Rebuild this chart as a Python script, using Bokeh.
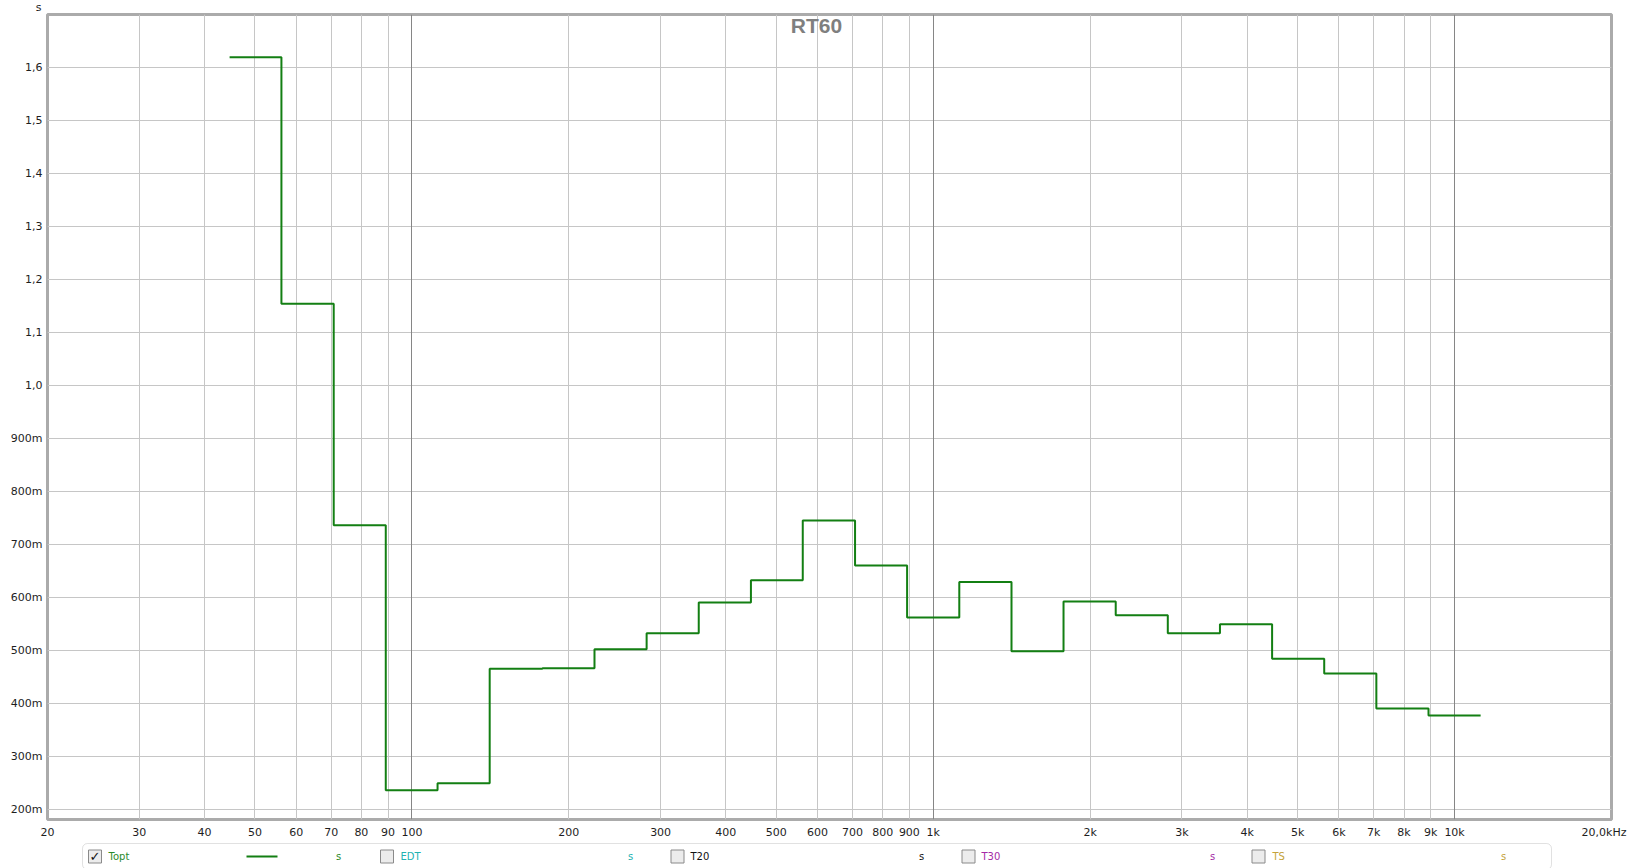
from bokeh.plotting import figure
from bokeh.models import Range1d, FixedTicker, Grid, Label, BoxAnnotation
from bokeh.layouts import column
from bokeh.embed import file_html
from bokeh.resources import INLINE
from bokeh.core.properties import value

# ---- data (1/3-octave bands) ----
band_edges_hz = [44.7, 56.2, 70.8, 89.1, 112, 141, 178, 224, 282, 355, 447, 562,
                 708, 891, 1122, 1413, 1778, 2239, 2818, 3548, 4467, 5623, 7079,
                 8913, 11220]
topt_s = [1.620, 1.155, 0.737, 0.237, 0.250, 0.466, 0.467, 0.503, 0.533, 0.591,
          0.633, 0.746, 0.661, 0.563, 0.630, 0.499, 0.593, 0.567, 0.533, 0.550,
          0.485, 0.457, 0.391, 0.378]

x_ticks = [20, 30, 40, 50, 60, 70, 80, 90, 100, 200, 300, 400, 500, 600, 700, 800,
           900, 1000, 2000, 3000, 4000, 5000, 6000, 7000, 8000, 9000, 10000]
x_tick_labels = ["20", "30", "40", "50", "60", "70", "80", "90", "100", "200", "300",
                 "400", "500", "600", "700", "800", "900", "1k", "2k", "3k", "4k",
                 "5k", "6k", "7k", "8k", "9k", "10k"]
x_major_grid = [100, 1000, 10000]
y_ticks = [0.2, 0.3, 0.4, 0.5, 0.6, 0.7, 0.8, 0.9, 1.0, 1.1, 1.2, 1.3, 1.4, 1.5, 1.6]
y_tick_labels = ["200m", "300m", "400m", "500m", "600m", "700m", "800m", "900m",
                 "1,0", "1,1", "1,2", "1,3", "1,4", "1,5", "1,6"]

legend_names = ["Topt", "EDT", "T20", "T30", "TS"]
legend_colors = ["#2a8a2a", "#22b2b2", "#111111", "#a52aa5", "#c4a23a"]
legend_checked = [True, False, False, False, False]

FONT = "DejaVu Sans"
LINE_COLOR = "#137f13"
Y0, Y1 = 0.1817, 1.7006
FL, FW, FR = 47, 1564, 22   # frame left border, frame width, right border

# ---- main plot ----
p = figure(x_axis_type="log", x_range=Range1d(20, 20000), y_range=Range1d(Y0, Y1),
           frame_width=FW, frame_height=805,
           min_border_left=FL, min_border_right=FR, min_border_top=14, min_border_bottom=19,
           output_backend="svg", toolbar_location=None)
p.background_fill_color = "white"
p.border_fill_color = "white"
p.outline_line_color = "#ababab"
p.outline_line_width = 3

p.xaxis.ticker = FixedTicker(ticks=x_ticks)
p.xaxis.major_label_overrides = {t: l for t, l in zip(x_ticks, x_tick_labels)}
p.xaxis.major_label_standoff = 6
p.yaxis.ticker = FixedTicker(ticks=y_ticks)
p.yaxis.major_label_overrides = {t: l for t, l in zip(y_ticks, y_tick_labels)}
p.yaxis.major_label_standoff = 5
for ax in (p.xaxis, p.yaxis):
    ax.axis_line_color = None
    ax.major_tick_line_color = None
    ax.minor_tick_line_color = None
    ax.major_tick_out = 0
    ax.major_tick_in = 0
    ax.major_label_text_font = FONT
    ax.major_label_text_font_size = "11px"
    ax.major_label_text_color = "#1e1e1e"

p.xgrid.ticker = FixedTicker(ticks=[t for t in x_ticks if t not in x_major_grid])
p.xgrid.grid_line_color = "#c6c6c6"
p.ygrid.ticker = FixedTicker(ticks=y_ticks)
p.ygrid.grid_line_color = "#c6c6c6"
p.add_layout(Grid(dimension=0, ticker=FixedTicker(ticks=x_major_grid),
                  grid_line_color="#868686"))

p.step(x=band_edges_hz, y=topt_s + [topt_s[-1]], mode="after",
       line_color=LINE_COLOR, line_width=2)

p.add_layout(Label(x=597, y=1.680, text="RT60", text_align="center", text_baseline="middle",
                   text_font="Liberation Sans", text_font_style="bold",
                   text_font_size="21px", text_color="#7f7f7f"))
# unit labels outside the frame (placed in side panels so they are not clipped)
p.add_layout(Label(x=20, y=Y1, x_offset=-9, y_offset=7, text="s", text_align="center",
                   text_baseline="alphabetic", text_font=FONT, text_font_size="11px",
                   text_color="#1e1e1e"), "left")
p.add_layout(Label(x=20000, y=Y0, x_offset=15, y_offset=-6, text="20,0kHz",
                   text_align="right", text_baseline="top", text_font=FONT,
                   text_font_size="11px", text_color="#1e1e1e"), "above")

# ---- legend strip (x in page pixels; frame aligned with main frame) ----
LH = 29
leg = figure(frame_width=FW, frame_height=LH, x_range=Range1d(FL, FL + FW),
             y_range=Range1d(0, LH),
             min_border_left=FL, min_border_right=FR, min_border_top=0, min_border_bottom=0,
             x_axis_location=None, y_axis_location=None,
             output_backend="svg", toolbar_location=None)
leg.grid.visible = False
leg.outline_line_color = None
leg.background_fill_color = "white"
leg.border_fill_color = "white"

cb_x = [94.5, 386.5, 677, 968, 1258]
name_x = [108, 400, 690, 981, 1272]
unit_x = [338, 630, 921, 1212, 1503]
yc = 14

leg.add_layout(BoxAnnotation(left=82, right=1551, bottom=1, top=27, fill_color=None,
                             line_color="#9a9a9a", line_width=1, border_radius=5))
leg.rect(x=cb_x, y=[yc] * len(cb_x), width=13, height=13,
         fill_color="#ececec", line_color="#8a8a8a")
leg.text(x=[c for c, chk in zip(cb_x, legend_checked) if chk],
         y=[yc] * sum(legend_checked), text=["✓"] * sum(legend_checked),
         text_font=value(FONT), text_font_size="13px", text_font_style="bold",
         text_align="center", text_baseline="middle", text_color="#111111")
leg.text(x=name_x, y=[yc] * len(name_x), text=legend_names, text_color=legend_colors,
         text_font=value(FONT), text_font_size="10px", text_baseline="middle")
leg.text(x=unit_x, y=[yc] * len(unit_x), text=["s"] * len(unit_x), text_color=legend_colors,
         text_font=value(FONT), text_font_size="10px", text_baseline="middle",
         text_align="center")
leg.line(x=[246, 277], y=[yc, yc], line_color=LINE_COLOR, line_width=2)

layout = column(p, leg, spacing=0)
open("out.html", "w").write(file_html(layout, INLINE))
